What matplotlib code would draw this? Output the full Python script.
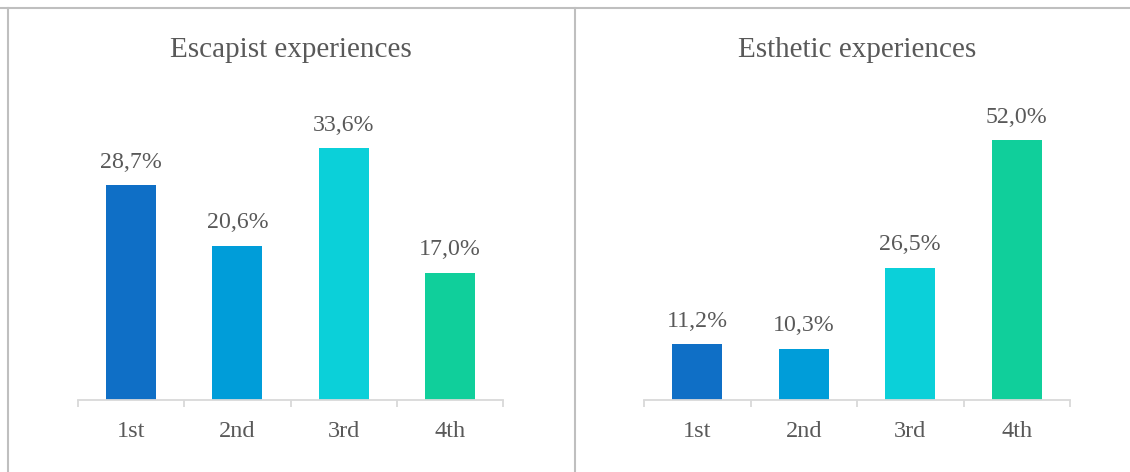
import matplotlib
matplotlib.use("Agg")
import matplotlib.pyplot as plt
from matplotlib.lines import Line2D

categories = ["1st", "2nd", "3rd", "4th"]
escapist = [28.7, 20.6, 33.6, 17.0]
esthetic = [11.2, 10.3, 26.5, 52.0]
titles = ["Escapist experiences", "Esthetic experiences"]
colors = ["#0F6FC6", "#009DD9", "#0BD0D9", "#10CF9B"]

W, H = 1130, 472
fig = plt.figure(figsize=(W / 100, H / 100), dpi=100)
plt.rcParams["font.family"] = ["Liberation Serif", "DejaVu Serif"]
text_color = "#595959"

def px_axes(x0, x1, y0, y1):
    return fig.add_axes([x0 / W, 1 - y1 / H, (x1 - x0) / W, (y1 - y0) / H])

panels = [
    (px_axes(78, 503, 100, 400), escapist, 40, titles[0]),
    (px_axes(644, 1070, 100, 400), esthetic, 60, titles[1]),
]

for ax, vals, ymax, title in panels:
    x = range(len(categories))
    bars = ax.bar(x, vals, width=0.47, color=colors, zorder=2)
    ax.set_xlim(-0.5, len(categories) - 0.5)
    ax.set_ylim(0, ymax)
    for s in ["top", "right", "left"]:
        ax.spines[s].set_visible(False)
    ax.spines["bottom"].set_color("#D9D9D9")
    ax.spines["bottom"].set_linewidth(1.3)
    ax.set_yticks([])
    ax.set_xticks([i - 0.5 for i in range(len(categories) + 1)])
    ax.set_xticklabels([])
    ax.tick_params(axis="x", which="major", length=5, width=1.3, color="#D9D9D9")
    ax.set_xticks(list(x), minor=True)
    ax.set_xticklabels(categories, minor=True)
    ax.tick_params(axis="x", which="minor", length=0, pad=26.6,
                   labelsize=17.5, labelcolor=text_color)
    for lbl in ax.get_xticklabels(minor=True):
        lbl.set_verticalalignment("baseline")
    for b, v in zip(bars, vals):
        ax.annotate(f"{v:.1f}%".replace(".", ","),
                    (b.get_x() + b.get_width() / 2, v),
                    xytext=(0, 12.3), textcoords="offset points",
                    ha="center", va="baseline", fontsize=17.2, color=text_color)
    ax.annotate(title, (0.5, 1), xycoords=("axes fraction", "figure fraction"),
                xytext=(0, -57 * 0.72), textcoords="offset points",
                ha="center", va="baseline", fontsize=21, color=text_color)

frame = "#BFBFBF"
fig.add_artist(Line2D([0, 1], [1 - 8 / H, 1 - 8 / H], color=frame, lw=1.5))
fig.add_artist(Line2D([7.5 / W, 7.5 / W], [0, 1 - 8 / H], color=frame, lw=1.5))
fig.add_artist(Line2D([575 / W, 575 / W], [0, 1 - 8 / H], color=frame, lw=1.5))

fig.savefig("out.png", dpi=100, facecolor="white")
